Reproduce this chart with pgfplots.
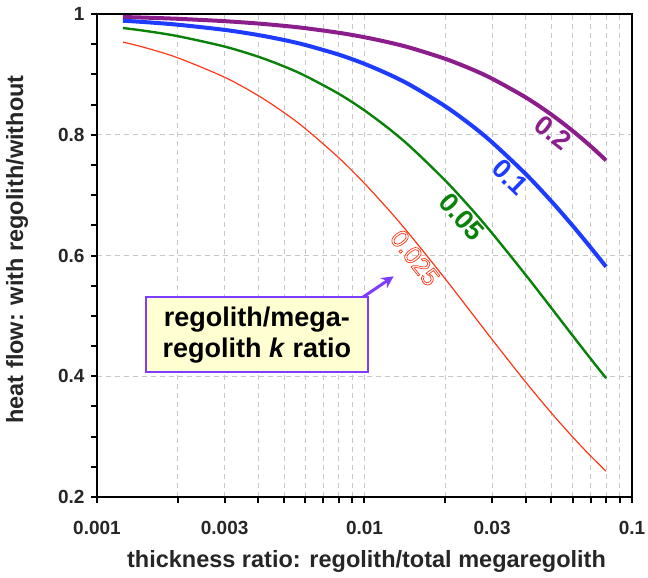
\documentclass[border=0pt]{standalone}
\usepackage{fontspec}
\setmainfont{Liberation Sans}
\usepackage{pgfplots}
\pgfplotsset{compat=1.18}
\usetikzlibrary{arrows.meta}
\definecolor{cpurple}{RGB}{140,30,140}
\definecolor{cblue}{RGB}{30,60,255}
\definecolor{cgreen}{RGB}{10,130,10}
\definecolor{cred}{RGB}{255,55,25}
\definecolor{cbox}{RGB}{125,60,255}
\definecolor{cfill}{RGB}{255,255,210}
\begin{document}
\begin{tikzpicture}
\begin{axis}[
  scale only axis, width=535bp, height=483bp,
  xmode=log, xmin=0.001, xmax=0.1, ymin=0.2, ymax=1,
  xtick={0.001,0.003,0.01,0.03,0.1},
  xticklabels={0.001,0.003,0.01,0.03,0.1},
  minor xtick={0.002,0.004,0.005,0.006,0.007,0.008,0.009,0.02,0.04,0.05,0.06,0.07,0.08,0.09},
  ytick={0.2,0.4,0.6,0.8,1},
  yticklabels={0.2,0.4,0.6,0.8,1},
  minor ytick={0.25,0.3,0.35,0.45,0.5,0.55,0.65,0.7,0.75,0.85,0.9,0.95},
  xmajorgrids, xminorgrids, ymajorgrids,
  grid style={dash pattern=on 5bp off 4bp, black!22, line width=0.9bp},
  tick align=outside, xtick pos=left, ytick pos=left,
  major tick length=6bp, minor tick length=6bp,
  tick style={black, line width=2bp},
  axis line style={line width=2.2bp},
  ticklabel style={font=\fontsize{19bp}{21bp}\selectfont\bfseries, text=black!85},
  /pgf/number format/assume math mode=true,
  xticklabel style={yshift=-15bp},
  yticklabel style={xshift=-3bp},
  xlabel={thickness ratio: regolith/total megaregolith},
  ylabel={heat flow: with regolith/without},
  label style={font=\fontsize{23.5bp}{26bp}\selectfont\bfseries, text=black!85},
  xlabel style={at={(axis description cs:0.5037,-0.1325)}, anchor=center},
  ylabel style={at={(axis description cs:-0.1495,0.5124)}, anchor=center},
  clip=false,
]
\addplot[cpurple, line width=4bp, smooth] coordinates {
(0.00125,0.99502)(0.0015,0.99404)(0.002,0.99206)(0.003,0.98814)(0.004,0.98425)(0.005,0.98039)(0.006,0.97656)(0.008,0.96899)(0.01,0.96154)(0.0125,0.95238)(0.015,0.94340)(0.02,0.92593)(0.025,0.90909)(0.03,0.89286)(0.04,0.86207)(0.05,0.83333)(0.06,0.80645)(0.07,0.78125)(0.08,0.75758)};
\addplot[cblue, line width=4bp, smooth] coordinates {
(0.00125,0.98888)(0.0015,0.98668)(0.002,0.98232)(0.003,0.97371)(0.004,0.96525)(0.005,0.95694)(0.006,0.94877)(0.008,0.93284)(0.01,0.91743)(0.0125,0.89888)(0.015,0.88106)(0.02,0.84746)(0.025,0.81633)(0.03,0.78740)(0.04,0.73529)(0.05,0.68966)(0.06,0.64935)(0.07,0.61350)(0.08,0.58140)};
\addplot[cgreen, line width=2.4bp, smooth] coordinates {
(0.00125,0.97680)(0.0015,0.97229)(0.002,0.96339)(0.003,0.94607)(0.004,0.92937)(0.005,0.91324)(0.006,0.89767)(0.008,0.86806)(0.01,0.84034)(0.0125,0.80808)(0.015,0.77821)(0.02,0.72464)(0.025,0.67797)(0.03,0.63694)(0.04,0.56818)(0.05,0.51282)(0.06,0.46729)(0.07,0.42918)(0.08,0.39683)};
\addplot[cred, line width=1.2bp, smooth] coordinates {
(0.00125,0.95352)(0.0015,0.94473)(0.002,0.92764)(0.003,0.89526)(0.004,0.86505)(0.005,0.83682)(0.006,0.81037)(0.008,0.76220)(0.01,0.71942)(0.0125,0.67227)(0.015,0.63091)(0.02,0.56180)(0.025,0.50633)(0.03,0.46083)(0.04,0.39063)(0.05,0.33898)(0.06,0.29940)(0.07,0.26810)(0.08,0.24272)};
\node[text=cpurple, font=\fontsize{27bp}{29bp}\selectfont\bfseries, rotate=-38] at (axis cs:0.0507,0.803) {0.2};
\node[text=cblue, font=\fontsize{27bp}{29bp}\selectfont\bfseries, rotate=-44] at (axis cs:0.035,0.730) {0.1};
\node[text=cgreen, font=\fontsize{27bp}{29bp}\selectfont\bfseries, rotate=-48] at (axis cs:0.0231,0.664) {0.05};
\node[text=cred, font=\fontsize{25bp}{27bp}\selectfont, rotate=-52] at (axis cs:0.01545,0.596) {\special{pdf:literal direct 1 Tr 0.7 w}0.025\special{pdf:literal direct 0 Tr}};
\draw[cbox, line width=3bp, -{Stealth[length=12bp,width=12bp]}] (axis cs:0.00987,0.531) -- (axis cs:0.01285,0.5655);
\node[draw=cbox, line width=2.5bp, fill=cfill, minimum width=222bp, minimum height=75bp, align=center, inner sep=0pt,
  font=\fontsize{27bp}{31bp}\selectfont\bfseries] at (axis cs:0.00396,0.469) {regolith/mega-\\regolith \textit{k} ratio};
\end{axis}
\pgfresetboundingbox
\useasboundingbox (current axis.south west) ++(-97bp,-81bp) rectangle ++(648bp,578bp);
\end{tikzpicture}
\end{document}
